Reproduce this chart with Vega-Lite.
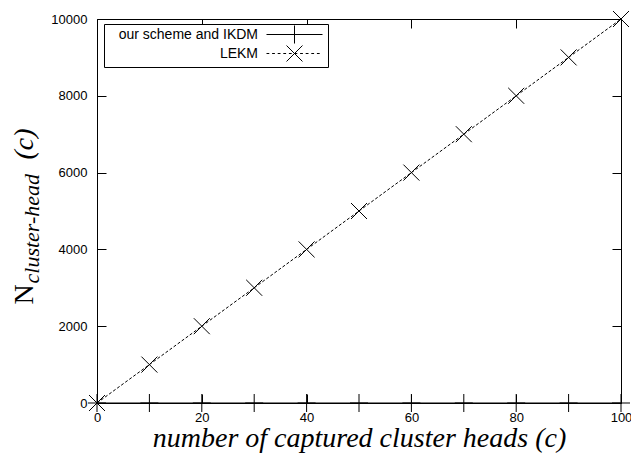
{
  "$schema": "https://vega.github.io/schema/vega-lite/v6.json",
  "width": 524,
  "height": 384,
  "autosize": "none",
  "padding": {"left": 97, "top": 19, "right": 10, "bottom": 51},
  "background": "white",
  "config": {
    "view": {"stroke": "black", "strokeWidth": 1},
    "axis": {
      "grid": false,
      "domain": false,
      "labelFont": "Liberation Sans",
      "labelFontSize": 13,
      "labelColor": "black",
      "tickColor": "black",
      "tickWidth": 1,
      "titleColor": "black",
      "titleFontWeight": "normal"
    }
  },
  "data": {
    "values": [
      {"c": 0, "series": "LEKM", "n": 0},
      {"c": 10, "series": "LEKM", "n": 1000},
      {"c": 20, "series": "LEKM", "n": 2000},
      {"c": 30, "series": "LEKM", "n": 3000},
      {"c": 40, "series": "LEKM", "n": 4000},
      {"c": 50, "series": "LEKM", "n": 5000},
      {"c": 60, "series": "LEKM", "n": 6000},
      {"c": 70, "series": "LEKM", "n": 7000},
      {"c": 80, "series": "LEKM", "n": 8000},
      {"c": 90, "series": "LEKM", "n": 9000},
      {"c": 100, "series": "LEKM", "n": 10000},
      {"c": 0, "series": "our scheme and IKDM", "n": 0},
      {"c": 10, "series": "our scheme and IKDM", "n": 0},
      {"c": 20, "series": "our scheme and IKDM", "n": 0},
      {"c": 30, "series": "our scheme and IKDM", "n": 0},
      {"c": 40, "series": "our scheme and IKDM", "n": 0},
      {"c": 50, "series": "our scheme and IKDM", "n": 0},
      {"c": 60, "series": "our scheme and IKDM", "n": 0},
      {"c": 70, "series": "our scheme and IKDM", "n": 0},
      {"c": 80, "series": "our scheme and IKDM", "n": 0},
      {"c": 90, "series": "our scheme and IKDM", "n": 0},
      {"c": 100, "series": "our scheme and IKDM", "n": 0}
    ]
  },
  "resolve": {"axis": {"x": "independent", "y": "independent"}},
  "layer": [
    {
      "transform": [{"filter": "datum.series === 'LEKM'"}],
      "mark": {"type": "line", "color": "black", "strokeWidth": 1, "strokeDash": [3, 2]},
      "encoding": {
        "x": {
          "field": "c", "type": "quantitative",
          "scale": {"domain": [0, 100], "nice": false},
          "axis": {
            "orient": "bottom", "values": [0, 20, 40, 60, 80, 100], "tickSize": -9,
            "labelPadding": 17, "labelFlush": false, "format": "d",
            "title": "number of captured cluster heads (c)",
            "titleFont": "Liberation Serif", "titleFontStyle": "italic", "titleFontSize": 28,
            "titleX": 262, "titleY": 43, "titleAlign": "center", "titleBaseline": "alphabetic"
          }
        },
        "y": {
          "field": "n", "type": "quantitative",
          "scale": {"domain": [0, 10000], "nice": false},
          "axis": {
            "orient": "left", "values": [0, 2000, 4000, 6000, 8000, 10000], "tickSize": -9,
            "labelPadding": 19, "format": "d",
            "title": "N",
            "titleFont": "Liberation Serif", "titleFontSize": 28,
            "titleX": -65, "titleY": 285, "titleAlign": "left", "titleBaseline": "alphabetic", "titleAngle": -90
          }
        }
      }
    },
    {
      "transform": [{"filter": "datum.series === 'our scheme and IKDM'"}],
      "mark": {"type": "line", "color": "black", "strokeWidth": 1},
      "encoding": {
        "x": {
          "field": "c", "type": "quantitative",
          "scale": {"domain": [0, 100], "nice": false},
          "axis": {"orient": "top", "values": [0, 20, 40, 60, 80, 100], "tickSize": -9, "labels": false, "title": null}
        },
        "y": {
          "field": "n", "type": "quantitative",
          "scale": {"domain": [0, 10000], "nice": false},
          "axis": {
            "orient": "left", "ticks": false, "labels": false, "title": "cluster-head",
            "titleFont": "Liberation Serif", "titleFontStyle": "italic", "titleFontSize": 22,
            "titleX": -59, "titleY": 264, "titleAlign": "left", "titleBaseline": "alphabetic", "titleAngle": -90
          }
        }
      }
    },
    {
      "transform": [{"filter": "datum.series === 'LEKM'"}],
      "mark": {"type": "point", "shape": "M-1,-1L1,1M-1,1L1,-1", "size": 256, "filled": false, "color": "black", "strokeWidth": 1, "opacity": 1},
      "encoding": {
        "x": {"field": "c", "type": "quantitative", "scale": {"domain": [0, 100], "nice": false}, "axis": null},
        "y": {
          "field": "n", "type": "quantitative",
          "scale": {"domain": [0, 10000], "nice": false},
          "axis": {
            "orient": "left", "ticks": false, "labels": false, "title": "(c)",
            "titleFont": "Liberation Serif", "titleFontStyle": "italic", "titleFontSize": 28,
            "titleX": -65, "titleY": 109, "titleAlign": "right", "titleBaseline": "alphabetic", "titleAngle": -90
          }
        }
      }
    },
    {
      "transform": [{"filter": "datum.series === 'our scheme and IKDM'"}],
      "mark": {"type": "point", "shape": "M-1,0L1,0M0,-1L0,1", "size": 324, "filled": false, "color": "black", "strokeWidth": 1, "opacity": 1},
      "encoding": {
        "x": {"field": "c", "type": "quantitative", "scale": {"domain": [0, 100], "nice": false}, "axis": null},
        "y": {
          "field": "n", "type": "quantitative",
          "scale": {"domain": [0, 10000], "nice": false},
          "axis": {"orient": "right", "values": [0, 2000, 4000, 6000, 8000, 10000], "tickSize": -9, "labels": false, "title": null}
        }
      }
    },
    {
      "mark": {"type": "point", "filled": false, "color": "black", "opacity": 0},
      "encoding": {
        "x": {"field": "c", "type": "quantitative", "scale": {"domain": [0, 100], "nice": false}, "axis": null},
        "y": {"field": "n", "type": "quantitative", "scale": {"domain": [0, 10000], "nice": false}, "axis": null},
        "shape": {
          "field": "series", "type": "nominal",
          "scale": {
            "domain": ["our scheme and IKDM", "LEKM"],
            "range": [
              "M-4,0L4,0M0,-1.29L0,1.29",
              "M-4,0L-3.6,0M-3.2,0L-2.8,0M-2.4,0L-2,0M-1.6,0L-1.2,0M-0.8,0L-0.4,0M0,0L0.4,0M0.8,0L1.2,0M1.6,0L2,0M2.4,0L2.8,0M3.2,0L3.6,0M-1.14,-1.14L1.14,1.14M-1.14,1.14L1.14,-1.14"
            ]
          },
          "legend": {
            "orient": "none", "legendX": 7, "legendY": 5, "title": null, "direction": "vertical",
            "strokeColor": "black", "fillColor": "white", "padding": 3, "rowPadding": -3,
            "labelFont": "Liberation Sans", "labelFontSize": 14, "labelColor": "black",
            "labelAlign": "right", "labelOffset": -44, "symbolOffset": 180,
            "symbolSize": 196, "symbolStrokeColor": "black", "symbolFillColor": "transparent",
            "symbolStrokeWidth": 1, "symbolOpacity": 1,
            "encode": {"symbols": {"update": {"opacity": {"value": 1}}}}
          }
        }
      }
    }
  ]
}
